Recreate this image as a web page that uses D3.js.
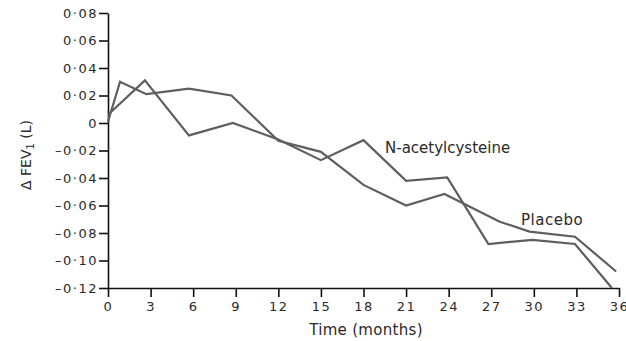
<!DOCTYPE html>
<html>
<head>
<meta charset="utf-8">
<script src="https://cdn.jsdelivr.net/npm/d3@7"></script>
<style>
  body { margin: 0; background: #fff; }
  .axis path, .axis line { stroke: #111; stroke-width: 1.6px; }
  .axis text { font-family: "DejaVu Sans", sans-serif; font-size: 13px; fill: #2a2a2a; letter-spacing: 1.5px; }
  .lbl { font-family: "DejaVu Sans", sans-serif; font-size: 15px; fill: #2a2a2a; }
</style>
</head>
<body>
<script>
// width and height
var w = 626;
var h = 341;

// data (months, change in FEV1 in L)
var nacMonths = [0, 2.6, 5.7, 8.8, 12, 15, 18, 21, 23.9, 26.8, 29.9, 32.9, 35.5];
var nacValues = [0.006, 0.031, -0.009, 0, -0.012, -0.027, -0.0125, -0.042, -0.0395, -0.088, -0.085, -0.088, -0.12];
var placeboMonths = [0, 0.85, 2.7, 5.7, 8.7, 12, 15, 18, 21, 23.7, 27.6, 29.7, 32.9, 35.8];
var placeboValues = [0.001, 0.03, 0.021, 0.025, 0.02, -0.013, -0.021, -0.045, -0.06, -0.0516, -0.0718, -0.079, -0.0827, -0.108];
var xTicks = [0, 3, 6, 9, 12, 15, 18, 21, 24, 27, 30, 33, 36];
var yTicks = [0.08, 0.06, 0.04, 0.02, 0, -0.02, -0.04, -0.06, -0.08, -0.10, -0.12];

var xScale = d3.scaleLinear()
    .domain([0, 36])
    .range([108, 619]);

var yScale = d3.scaleLinear()
    .domain([-0.12, 0.08])
    .range([288, 13]);

var svg = d3.select('body')
    .append('svg')
    .attr('width', w)
    .attr('height', h);

// lancet style numbers: 0·02, –0·04
function fmt(v) {
    if (v === 0) return '0';
    var s = Math.abs(v).toFixed(2).replace('.', '\u00b7');
    return v < 0 ? '\u2013' + s : s;
}

var yAxis = d3.axisLeft(yScale)
    .tickValues(yTicks)
    .tickFormat(fmt)
    .tickSize(9)
    .tickSizeOuter(0)
    .tickPadding(1);

svg.append('g')
    .attr('class', 'axis')
    .attr('transform', 'translate(' + xScale(0) + ',0)')
    .call(yAxis);

var xAxis = d3.axisBottom(xScale)
    .tickValues(xTicks)
    .tickSize(9)
    .tickSizeOuter(0)
    .tickPadding(5);

svg.append('g')
    .attr('class', 'axis')
    .attr('transform', 'translate(0,' + yScale(-0.12) + ')')
    .call(xAxis);

// lines
var line = d3.line()
    .x(d => xScale(d[0]))
    .y(d => yScale(d[1]));

var series = [
    d3.zip(nacMonths, nacValues),
    d3.zip(placeboMonths, placeboValues)
];

svg.selectAll('path.series')
    .data(series)
    .enter()
    .append('path')
    .attr('class', 'series')
    .attr('d', line)
    .attr('fill', 'none')
    .attr('stroke', '#5e5e5e')
    .attr('stroke-width', 2.2)
    .attr('stroke-linejoin', 'miter');

// labels
svg.append('text')
    .attr('class', 'lbl')
    .attr('x', 385)
    .attr('y', 153)
    .text('N-acetylcysteine');

svg.append('text')
    .attr('class', 'lbl')
    .attr('x', 521)
    .attr('y', 225)
    .attr('letter-spacing', 0.5)
    .text('Placebo');

svg.append('text')
    .attr('class', 'lbl')
    .attr('x', 366)
    .attr('y', 335)
    .attr('text-anchor', 'middle')
    .attr('letter-spacing', 0.3)
    .text('Time (months)');

var yl = svg.append('text')
    .attr('class', 'lbl')
    .attr('transform', 'translate(31,155) rotate(-90)')
    .attr('text-anchor', 'middle')
    .style('font-size', '14px');
yl.append('tspan').text('\u0394 FEV');
yl.append('tspan').attr('font-size', '10px').attr('dy', 3).text('1');
yl.append('tspan').attr('dy', -3).text(' (L)');
</script>
</body>
</html>
